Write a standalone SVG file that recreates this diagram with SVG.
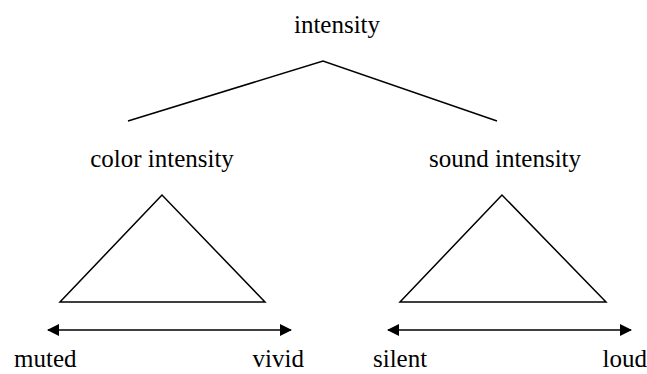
<svg xmlns="http://www.w3.org/2000/svg" width="647" height="374" viewBox="0 0 647 374">
<defs>
<marker id="ah" viewBox="0 0 12 12" refX="11" refY="6" markerWidth="12" markerHeight="12" markerUnits="userSpaceOnUse" orient="auto-start-reverse">
<path d="M0,0 L12,6 L0,12 z" fill="#000"/>
</marker>
</defs>
<rect width="647" height="374" fill="#fff"/>
<g id="connectors" stroke="#000" stroke-width="1.5" fill="none">
<polyline points="128,121 323,61 497,121"/>
<line x1="48" y1="330" x2="291" y2="330" marker-start="url(#ah)" marker-end="url(#ah)"/>
<line x1="388" y1="330" x2="631" y2="330" marker-start="url(#ah)" marker-end="url(#ah)"/>
</g>
<g id="intensity"><text font-family="Liberation Serif" font-size="25" x="337" y="33" text-anchor="middle">intensity</text></g>
<g id="color-intensity"><text font-family="Liberation Serif" font-size="25" x="162" y="167" text-anchor="middle">color intensity</text></g>
<g id="sound-intensity"><text font-family="Liberation Serif" font-size="25" x="505" y="167" text-anchor="middle">sound intensity</text></g>
<g id="muted"><text font-family="Liberation Serif" font-size="25" x="14" y="367">muted</text></g>
<g id="vivid"><text font-family="Liberation Serif" font-size="25" x="304" y="367" text-anchor="end">vivid</text></g>
<g id="silent"><text font-family="Liberation Serif" font-size="25" x="373" y="367">silent</text></g>
<g id="loud"><text font-family="Liberation Serif" font-size="25" x="647" y="367" text-anchor="end">loud</text></g>
<g id="color-triangle"><polygon stroke="#000" stroke-width="1.5" fill="none" points="162,195 60,302 265,302"/></g>
<g id="sound-triangle"><polygon stroke="#000" stroke-width="1.5" fill="none" points="502,195 400,302 606,302"/></g>
</svg>
